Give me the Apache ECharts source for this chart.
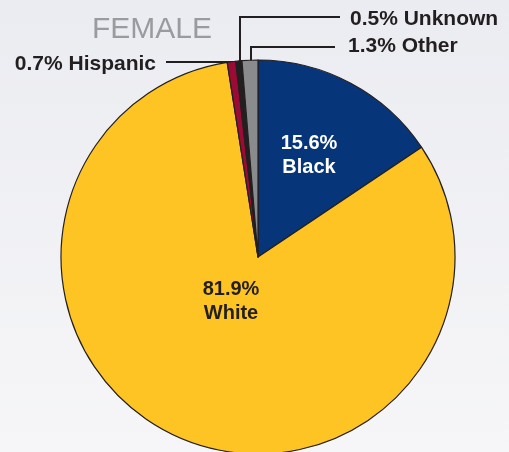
<!DOCTYPE html>
<html><head><meta charset="utf-8">
<script src="https://cdn.jsdelivr.net/npm/echarts@6/dist/echarts.min.js"></script>
<style>html,body{margin:0;padding:0;}#c{width:509px;height:452px;background:linear-gradient(#ebecf1,#f6f6f8);}</style>
</head><body><div id="c"></div>
<script>
const categories = ['Black', 'White', 'Hispanic', 'Unknown', 'Other'];
const values = [15.6, 81.9, 0.7, 0.5, 1.3];
const colors = ['#06357a', '#fec423', '#9b0b35', '#231f20', '#8a8b8d'];
const title = 'FEMALE';

const chart = echarts.init(document.getElementById('c'));
const data = categories.map((c, i) => {
  const d = { name: c, value: values[i], itemStyle: { color: colors[i] } };
  if (c === 'Black' || c === 'White') {
    d.label = { position: 'inside', color: c === 'Black' ? '#ffffff' : '#231f20', fontSize: 20 };
    d.labelLine = { show: false };
  }
  return d;
});
chart.setOption({
  animation: false,
  title: { text: title, left: 87, top: 10, textStyle: { fontFamily: 'Liberation Sans', fontWeight: 'normal', fontSize: 30, color: '#9a9b9f' } },
  series: [{
    type: 'pie',
    center: [258, 257],
    radius: 197,
    startAngle: 90,
    clockwise: true,
    data: data,
    itemStyle: { borderColor: '#231f20', borderWidth: 1.2 },
    label: {
      formatter: p => (p.name === 'Black' || p.name === 'White') ? p.value + '%\n' + p.name : p.value + '% ' + p.name,
      fontFamily: 'Liberation Sans', fontWeight: 'bold', fontSize: 21, lineHeight: 24, color: '#231f20',
      overflow: 'none', width: 200
    },
    labelLine: { show: true, lineStyle: { color: '#231f20', width: 2 } },
    labelLayout: function (p) {
      const pts = p.labelLinePoints;
      if (p.dataIndex === 0) return { x: 309, y: 155, align: 'center', verticalAlign: 'middle' };
      if (p.dataIndex === 1) return { x: 231, y: 301, align: 'center', verticalAlign: 'middle' };
      if (!pts) return {};
      const s = pts[0];
      const sx = Math.round(s[0]);
      if (p.dataIndex === 2) {
        return { x: 156, y: 64, align: 'right', verticalAlign: 'middle',
          labelLinePoints: [[sx + 2, s[1] + 2], [sx + 2, 62], [166, 62]] };
      }
      if (p.dataIndex === 3) {
        return { x: 350, y: 19, align: 'left', verticalAlign: 'middle',
          labelLinePoints: [[sx + 1, s[1] + 2], [sx + 1, 17], [340, 17]] };
      }
      if (p.dataIndex === 4) {
        return { x: 348, y: 46, align: 'left', verticalAlign: 'middle',
          labelLinePoints: [[sx + 1, s[1] + 13], [sx + 1, 47], [335, 47]] };
      }
      return {};
    }
  }]
});
</script></body></html>
